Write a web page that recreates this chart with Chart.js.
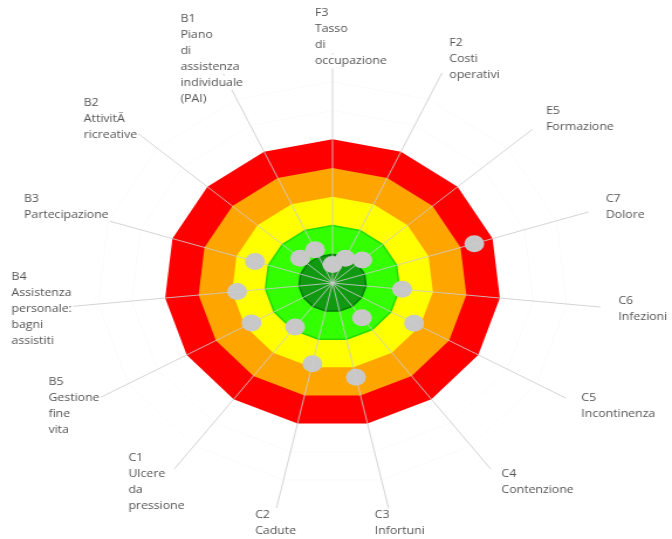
<!DOCTYPE html>
<html>
<head>
<meta charset="utf-8">
<script src="https://cdn.jsdelivr.net/npm/chart.js@4.4.1/dist/chart.umd.min.js"></script>
<style>
  html, body { margin: 0; padding: 0; background: #fff; }
  #radar { display: block; width: 672px; height: 539px; }
</style>
</head>
<body>
<canvas id="radar" width="574" height="539" style="width:672px;height:539px"></canvas>
<script>
// indicators, clockwise from the top
const labels = [
  ['F3', 'Tasso', 'di', 'occupazione'],
  ['F2', 'Costi', 'operativi'],
  ['E5', 'Formazione'],
  ['C7', 'Dolore'],
  ['C6', 'Infezioni'],
  ['C5', 'Incontinenza'],
  ['C4', 'Contenzione'],
  ['C3', 'Infortuni'],
  ['C2', 'Cadute'],
  ['C1', 'Ulcere', 'da', 'pressione'],
  ['B5', 'Gestione', 'fine', 'vita'],
  ['B4', 'Assistenza', 'personale:', 'bagni', 'assistiti'],
  ['B3', 'Partecipazione'],
  ['B2', 'AttivitÃ', 'ricreative'],
  ['B1', 'Piano', 'di', 'assistenza', 'individuale', '(PAI)']
];

// score of each indicator
const scores = [0.64, 0.94, 1.19, 4.43, 2.08, 2.8, 1.49, 3.35, 2.87, 1.89, 2.78, 2.85, 2.42, 1.29, 1.27];

// coloured bands (outer limit of each band)
const bandLevels = [1, 2, 3, 4, 5];
const bandColors = ['#119911', '#33ff00', '#ffff00', '#ffa500', '#ff0000'];
const bandBorders = ['#007a00', '#22dd00', '#ffff00', '#ffa500', '#ff0000'];

const scaleMax = 8;

const datasets = [{
  label: 'Punteggio',
  data: scores,
  showLine: false,
  fill: false,
  pointRadius: 8.5,
  pointHoverRadius: 8.5,
  pointBorderWidth: 0,
  pointBackgroundColor: '#c8c8c8',
  borderColor: 'rgba(0,0,0,0)'
}];
bandLevels.forEach((lvl, i) => {
  datasets.push({
    label: 'livello ' + lvl,
    data: new Array(labels.length).fill(lvl),
    fill: true,
    backgroundColor: bandColors[i],
    borderColor: bandBorders[i],
    borderWidth: i < 2 ? 1.5 : 0,
    pointRadius: 0,
    pointHoverRadius: 0
  });
});

// labels drawn left-aligned just beyond the end of each spoke
const spokeLabels = {
  id: 'spokeLabels',
  afterDraw(chart) {
    const scale = chart.scales.r;
    const ctx = chart.ctx;
    const lineH = 16;
    ctx.save();
    ctx.font = '10.5px "Open Sans"';
    ctx.textAlign = 'left';
    ctx.textBaseline = 'middle';
    labels.forEach((lines, i) => {
      const a = scale.getIndexAngle(i);
      const p = scale.getPointPosition(i, scale.drawingArea + 15.5);
      const s = Math.sin(a);
      const shift = s > 0.25 ? 0 : (s < -0.25 ? -30 : -15);
      const x = p.x + shift;
      const y0 = p.y - (lines.length - 1) * lineH / 2;
      lines.forEach((t, j) => {
        const y = y0 + j * lineH;
        const w = ctx.measureText(t).width;
        ctx.fillStyle = '#ffffff';
        ctx.fillRect(x - 1, y - 7, w + 2, 14);
        ctx.fillStyle = '#555555';
        ctx.fillText(t, x, y);
      });
    });
    ctx.restore();
  }
};

const ctx = document.getElementById('radar');
const radar = new Chart(ctx, {
  type: 'radar',
  data: {
    labels: labels,
    datasets: datasets
  },
  options: {
    responsive: false,
    devicePixelRatio: 1,
    animation: false,
    layout: { padding: { top: 53, bottom: 25, left: 49, right: 55 } },
    plugins: {
      legend: { display: false },
      tooltip: { enabled: false }
    },
    elements: { line: { tension: 0 } },
    scales: {
      r: {
        min: 0,
        max: scaleMax,
        ticks: { display: false, stepSize: 1 },
        pointLabels: { display: false },
        grid: {
          z: 1,
          circular: false,
          color: (c) => (c.tick && c.tick.value > 5 && c.tick.value < scaleMax) ? 'rgba(0,0,0,0.025)' : 'rgba(0,0,0,0)'
        },
        angleLines: { color: 'rgba(205,205,205,0.85)', lineWidth: 1 }
      }
    }
  },
  plugins: [spokeLabels]
});
radar;
</script>
</body>
</html>
